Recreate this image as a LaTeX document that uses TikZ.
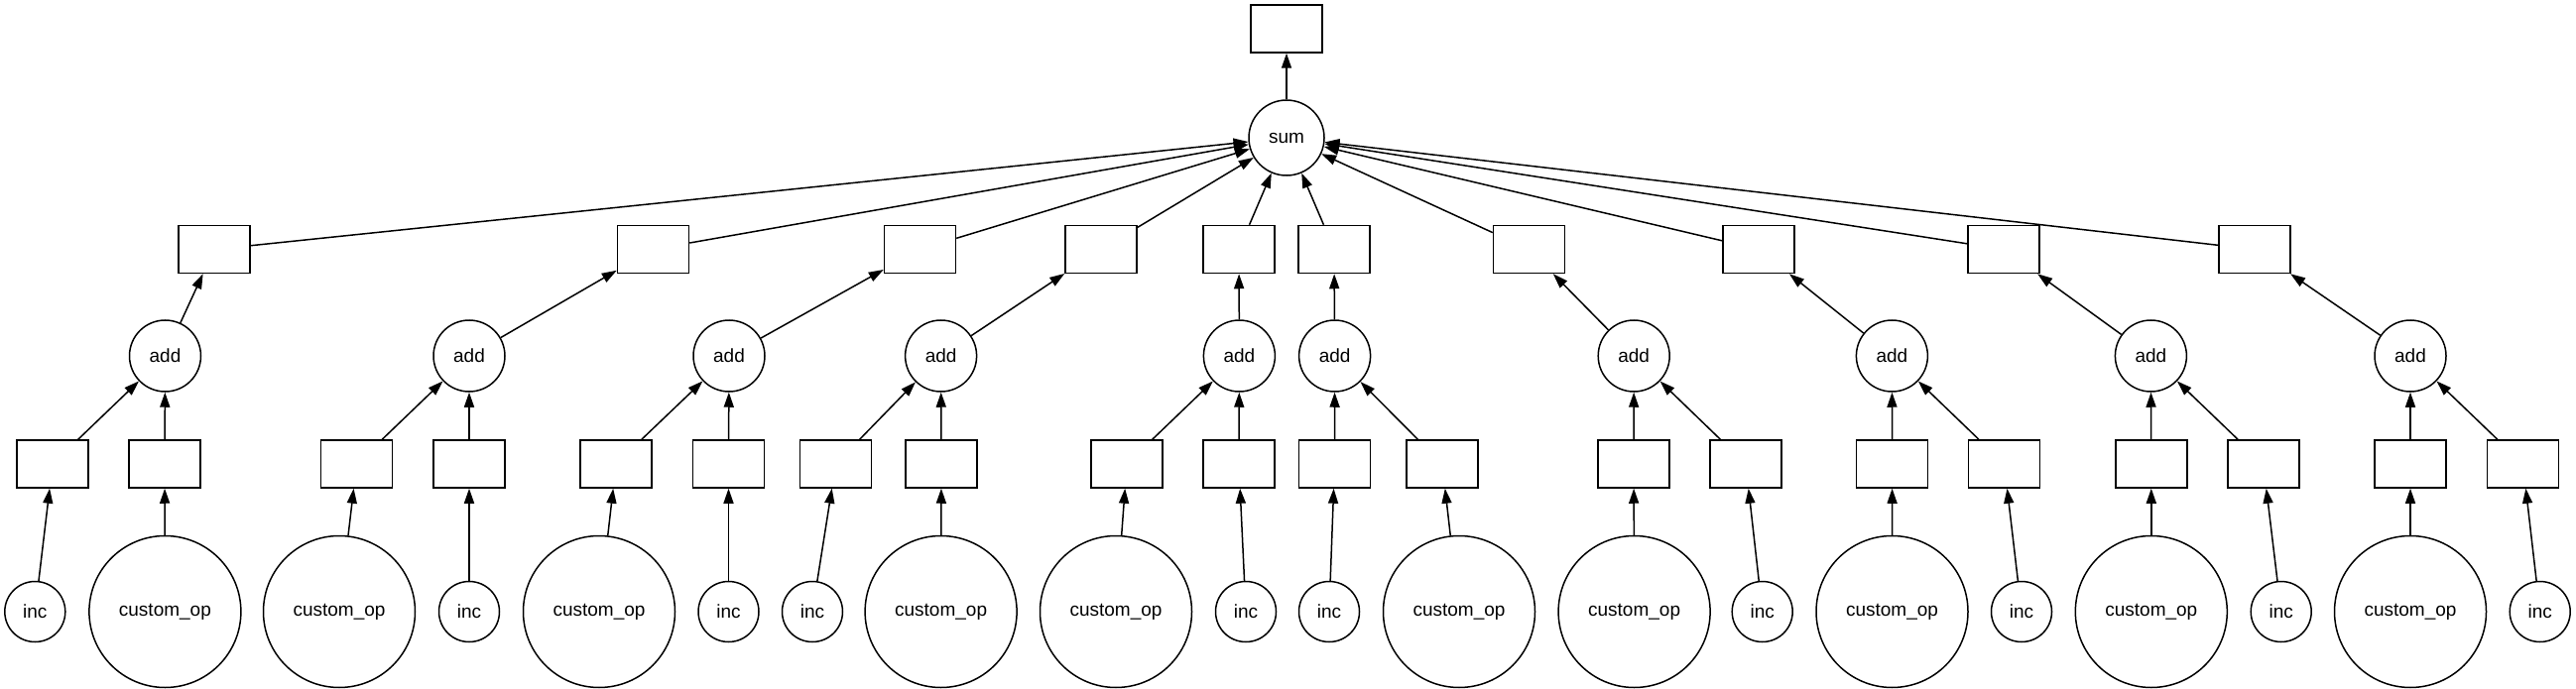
\documentclass[tikz,border=0pt]{standalone}
\usepackage{fontspec}
\setmainfont{Liberation Sans}
\usetikzlibrary{arrows.meta}
\tikzset{
  every node/.style={font=\fontsize{19}{22}\selectfont, line width=1.5pt, draw=black, inner sep=0pt},
  boxnode/.style={rectangle, minimum width=72pt, minimum height=48pt},
  sumnode/.style={circle, minimum size=76pt},
  addnode/.style={circle, minimum size=72pt},
  incnode/.style={circle, minimum size=61pt},
  copnode/.style={circle, minimum size=153pt},
  edge/.style={line width=1.5pt, -{Triangle[length=15pt, width=10pt]}}
}
\begin{document}
\begin{tikzpicture}[x=1pt, y=-1pt]
\useasboundingbox (0,0) rectangle (2597,695);
% top and sum
\node[boxnode] (t) at (1297,29) {};
\node[sumnode] (s) at (1297,139) {sum};
% level 2 boxes
\node[boxnode] (b1) at (216,251.5) {};
\node[boxnode] (b2) at (658.5,251.5) {};
\node[boxnode] (b3) at (927.5,251.5) {};
\node[boxnode] (b4) at (1110,251.5) {};
\node[boxnode] (b5) at (1249,251.5) {};
\node[boxnode] (b6) at (1345,251.5) {};
\node[boxnode] (b7) at (1541.5,251.5) {};
\node[boxnode] (b8) at (1773,251.5) {};
\node[boxnode] (b9) at (2020,251.5) {};
\node[boxnode] (b10) at (2273,251.5) {};
% add nodes
\node[addnode] (a1) at (166.5,359) {add};
\node[addnode] (a2) at (473,359) {add};
\node[addnode] (a3) at (735,359) {add};
\node[addnode] (a4) at (948.6,359) {add};
\node[addnode] (a5) at (1249.4,359) {add};
\node[addnode] (a6) at (1345.6,359) {add};
\node[addnode] (a7) at (1647.2,359) {add};
\node[addnode] (a8) at (1907.4,359) {add};
\node[addnode] (a9) at (2168.4,359) {add};
\node[addnode] (a10) at (2430,359) {add};
% level 4 boxes
\node[boxnode] (p1l) at (53,468) {};
\node[boxnode] (p1r) at (166,468) {};
\node[boxnode] (p2l) at (359.5,468) {};
\node[boxnode] (p2r) at (473,468) {};
\node[boxnode] (p3l) at (621,468) {};
\node[boxnode] (p3r) at (734.5,468) {};
\node[boxnode] (p4l) at (842.6,468) {};
\node[boxnode] (p4r) at (949,468) {};
\node[boxnode] (p5l) at (1136,468) {};
\node[boxnode] (p5r) at (1249,468) {};
\node[boxnode] (p6l) at (1345.5,468) {};
\node[boxnode] (p6r) at (1454,468) {};
\node[boxnode] (p7l) at (1647,468) {};
\node[boxnode] (p7r) at (1760,468) {};
\node[boxnode] (p8l) at (1907.6,468) {};
\node[boxnode] (p8r) at (2020.6,468) {};
\node[boxnode] (p9l) at (2168.8,468) {};
\node[boxnode] (p9r) at (2281.8,468) {};
\node[boxnode] (p10l) at (2430,468) {};
\node[boxnode] (p10r) at (2543.5,468) {};
% bottom row
\node[incnode] (q1l) at (35.3,617) {inc};
\node[copnode] (q1r) at (166.4,617) {custom\_op};
\node[copnode] (q2l) at (342,617) {custom\_op};
\node[incnode] (q2r) at (473,617) {inc};
\node[copnode] (q3l) at (604,617) {custom\_op};
\node[incnode] (q3r) at (734.5,617) {inc};
\node[incnode] (q4l) at (819,617) {inc};
\node[copnode] (q4r) at (948.6,617) {custom\_op};
\node[copnode] (q5l) at (1125,617) {custom\_op};
\node[incnode] (q5r) at (1256,617) {inc};
\node[incnode] (q6l) at (1340,617) {inc};
\node[copnode] (q6r) at (1471,617) {custom\_op};
\node[copnode] (q7l) at (1647.6,617) {custom\_op};
\node[incnode] (q7r) at (1776.7,617) {inc};
\node[copnode] (q8l) at (1907.5,617) {custom\_op};
\node[incnode] (q8r) at (2038,617) {inc};
\node[copnode] (q9l) at (2168.8,617) {custom\_op};
\node[incnode] (q9r) at (2299.7,617) {inc};
\node[copnode] (q10l) at (2430,617) {custom\_op};
\node[incnode] (q10r) at (2560.7,617) {inc};
% edges
\draw[edge] (s) -- (t);
\foreach \i in {1,...,10}{
  \draw[edge] (b\i) -- (s);
  \draw[edge] (a\i) -- (b\i);
  \draw[edge] (p\i l) -- (a\i);
  \draw[edge] (p\i r) -- (a\i);
  \draw[edge] (q\i l) -- (p\i l);
  \draw[edge] (q\i r) -- (p\i r);
}
\end{tikzpicture}
\end{document}
